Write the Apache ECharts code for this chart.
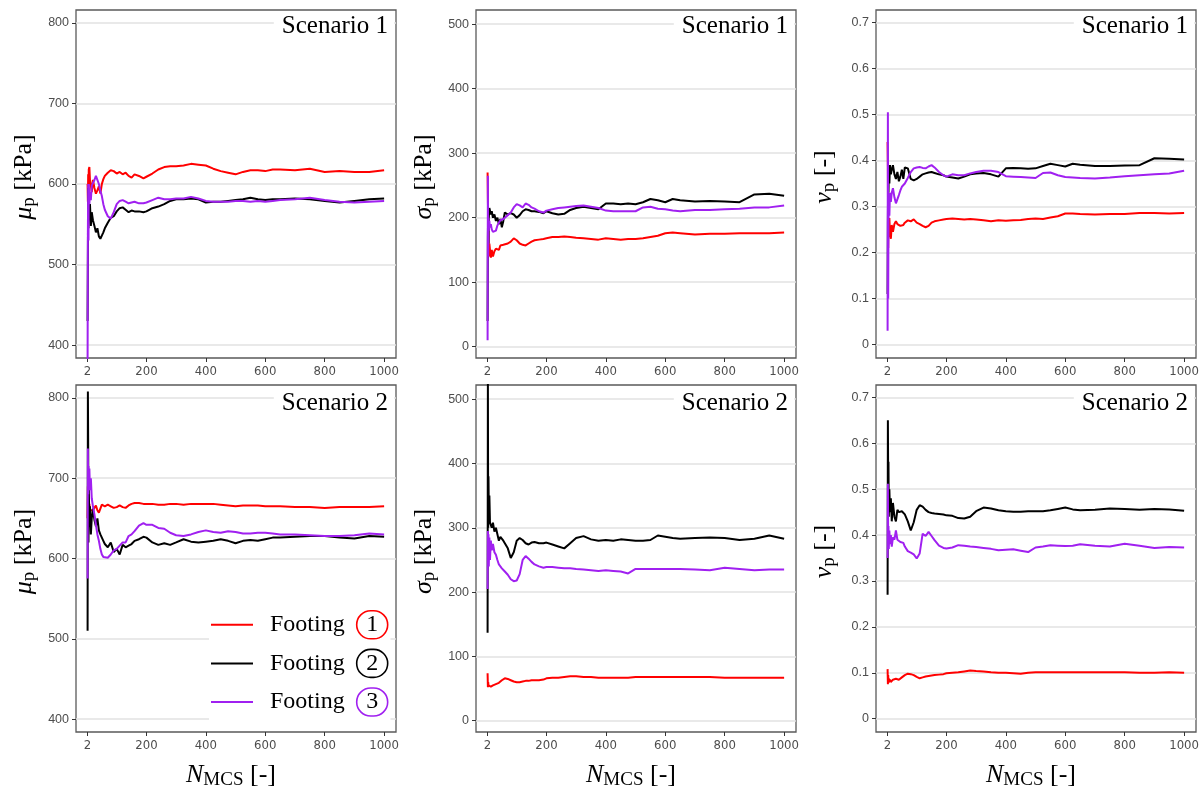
<!DOCTYPE html>
<html>
<head>
<meta charset="utf-8">
<script src="https://cdn.jsdelivr.net/npm/echarts@6/dist/echarts.min.js"></script>
<style>
  html, body { margin: 0; padding: 0; background: #fff; }
  #chart { width: 1203px; height: 791px; }
</style>
</head>
<body>
<div id="chart"></div>
<script>
// Number of Monte Carlo samples at which the running statistics are plotted
const nmcs = [2,3,4,5,6,8,10,13,16,20, 25,30,35,40,45,50,55,60,70,80,
  90,100,110,120,130,140,150,160,175,190, 200,220,240,260,280,300,325,350,375,400,
  425,450,475,500,525,550,575,600,625,650, 700,750,800,850,900,950,1000];

// Tick labels
const xTicks = [2, 200, 400, 600, 800, 1000];
const muTicks = [400, 500, 600, 700, 800];
const sigmaTicks = [0, 100, 200, 300, 400, 500];
const nuTicks = [0, 0.1, 0.2, 0.3, 0.4, 0.5, 0.6, 0.7];

const footings = ['Footing 1', 'Footing 2', 'Footing 3'];
const scenarios = ['Scenario 1', 'Scenario 2'];

// Scenario 1 — mean μp [kPa]
const muS1F1 = [600,578,612,590,618,621,605,598,590,605,
  595,588,592,597,588,600,606,610,614,617,
  616,613,615,612,614,610,608,612,610,607,
  609,613,618,621,622,622,623,625,624,623,
  619,616,614,612,615,617,617,616,618,618,
  617,619,615,616,615,615,617];
const muS1F2 = [430,510,595,545,585,555,575,548,565,555,
  548,540,545,535,532,536,540,545,552,558,
  560,566,570,571,568,565,567,566,566,565,
  566,570,572,575,579,581,581,582,581,577,
  578,578,579,580,581,583,581,580,581,581,
  582,581,579,577,579,581,582];
const muS1F3 = [380,540,600,530,600,575,590,580,598,600,
  605,610,608,600,592,585,575,568,560,557,
  565,575,579,580,578,576,577,578,576,576,
  577,580,583,581,581,582,582,584,582,579,
  578,578,578,579,579,578,579,578,579,580,
  581,583,580,578,577,578,579];

// Scenario 1 — standard deviation σp [kPa]
const sigmaS1F1 = [270,230,200,175,140,160,150,138,150,140,
  148,152,155,150,157,160,158,156,160,163,
  168,165,160,158,157,160,163,165,166,167,
  168,170,170,171,170,169,168,167,166,168,
  167,166,167,167,168,170,172,176,177,176,
  174,175,175,176,176,176,177];
const sigmaS1F2 = [40,170,215,160,200,215,212,205,210,200,
  205,195,200,190,198,185,195,208,205,207,
  205,200,204,210,213,212,210,210,209,207,
  210,207,205,206,212,215,217,215,213,222,
  222,221,222,221,224,229,227,224,229,227,
  225,226,225,224,236,237,234];
const sigmaS1F3 = [10,265,140,200,180,195,185,190,182,178,
  175,180,188,192,196,195,198,200,204,208,
  216,221,219,216,222,220,216,214,210,208,
  211,213,215,216,217,218,219,217,215,211,
  210,210,210,210,216,217,214,213,211,210,
  212,212,213,214,216,216,219];

// Scenario 1 — coefficient of variation vp [-]
const nuS1F1 = [0.44,0.385,0.21,0.27,0.24,0.275,0.24,0.23,0.26,0.245,
  0.262,0.268,0.262,0.265,0.258,0.262,0.26,0.265,0.27,0.268,
  0.272,0.265,0.262,0.258,0.255,0.258,0.265,0.268,0.27,0.272,
  0.273,0.274,0.273,0.272,0.273,0.272,0.27,0.268,0.27,0.269,
  0.27,0.271,0.273,0.274,0.273,0.276,0.279,0.285,0.285,0.284,
  0.283,0.284,0.284,0.286,0.286,0.285,0.286];
const nuS1F2 = [0.11,0.27,0.36,0.33,0.38,0.35,0.39,0.37,0.38,0.39,
  0.37,0.36,0.375,0.355,0.365,0.38,0.36,0.385,0.383,0.36,
  0.357,0.36,0.365,0.37,0.372,0.374,0.375,0.373,0.37,0.368,
  0.365,0.363,0.361,0.365,0.37,0.372,0.373,0.37,0.365,0.383,
  0.384,0.383,0.382,0.383,0.388,0.393,0.39,0.387,0.393,0.391,
  0.388,0.388,0.389,0.39,0.405,0.404,0.402];
const nuS1F3 = [0.03,0.505,0.1,0.27,0.3,0.28,0.33,0.31,0.33,0.34,
  0.32,0.307,0.31,0.325,0.335,0.343,0.345,0.35,0.362,0.375,
  0.383,0.385,0.386,0.384,0.383,0.387,0.39,0.385,0.375,0.368,
  0.365,0.37,0.368,0.368,0.372,0.375,0.378,0.378,0.375,0.366,
  0.365,0.364,0.363,0.362,0.373,0.374,0.368,0.364,0.363,0.362,
  0.361,0.363,0.366,0.368,0.37,0.372,0.378];

// Scenario 2 — mean μp [kPa]
const muS2F1 = [650,690,645,670,655,668,660,662,658,660,
  663,666,660,657,662,667,666,665,667,665,
  663,664,666,664,663,666,668,669,669,668,
  668,668,667,667,668,668,667,668,668,668,
  668,667,666,665,666,666,666,665,665,665,
  664,664,663,664,664,664,665];
const muS2F2 = [510,808,740,620,690,640,665,630,650,662,
  648,640,650,635,630,626,622,618,614,620,
  608,612,605,617,614,616,618,622,624,627,
  626,620,617,619,617,620,624,621,620,621,
  622,624,622,619,622,623,622,624,626,626,
  627,628,628,626,625,628,627];
const muS2F3 = [575,737,680,715,690,712,685,700,675,665,
  655,642,630,622,612,605,602,600,601,605,
  610,612,616,620,620,628,630,634,641,644,
  642,642,638,637,632,629,628,630,633,635,
  633,632,634,633,631,631,632,632,631,630,
  630,629,628,628,629,631,630];

// Scenario 2 — standard deviation σp [kPa]
const sigmaS2F1 = [74,52,60,55,58,52,55,53,56,55,
  56,57,58,59,61,63,65,66,65,63,
  61,60,60,61,62,62,63,63,63,64,
  66,67,67,68,69,69,68,68,67,67,
  67,67,67,68,68,68,68,68,68,68,
  68,68,67,67,67,67,67];
const sigmaS2F2 = [137,530,300,380,330,350,308,310,300,308,
  294,300,290,280,286,284,280,276,268,253,
  262,280,284,281,276,274,277,278,276,276,
  277,274,271,268,276,284,287,282,280,281,
  280,282,281,280,280,281,288,286,284,283,
  284,285,284,281,283,288,283];
const sigmaS2F3 = [205,295,250,290,240,285,250,280,265,275,
  262,258,250,243,240,237,235,232,227,220,
  217,218,228,250,256,252,247,243,240,238,
  239,239,238,237,237,236,235,234,233,234,
  233,232,229,236,236,236,236,236,236,236,
  235,234,238,236,234,235,235];

// Scenario 2 — coefficient of variation vp [-]
const nuS2F1 = [0.108,0.075,0.095,0.078,0.088,0.08,0.085,0.08,0.082,0.085,
  0.083,0.087,0.088,0.085,0.087,0.09,0.093,0.095,0.098,0.097,
  0.095,0.091,0.088,0.09,0.092,0.093,0.094,0.095,0.096,0.097,
  0.099,0.1,0.101,0.103,0.105,0.104,0.103,0.101,0.1,0.1,
  0.099,0.098,0.1,0.101,0.101,0.101,0.101,0.101,0.101,0.101,
  0.101,0.101,0.101,0.1,0.1,0.101,0.1];
const nuS2F2 = [0.27,0.65,0.52,0.56,0.44,0.5,0.45,0.48,0.43,0.47,
  0.44,0.43,0.455,0.45,0.447,0.452,0.454,0.445,0.43,0.41,
  0.428,0.455,0.465,0.462,0.455,0.45,0.448,0.447,0.446,0.445,
  0.443,0.442,0.437,0.436,0.44,0.452,0.46,0.458,0.454,0.452,
  0.451,0.451,0.452,0.452,0.452,0.454,0.457,0.46,0.456,0.454,
  0.455,0.458,0.457,0.455,0.457,0.456,0.453];
const nuS2F3 = [0.35,0.512,0.38,0.42,0.37,0.41,0.38,0.4,0.375,0.395,
  0.39,0.41,0.39,0.387,0.385,0.384,0.383,0.375,0.365,0.362,
  0.358,0.349,0.36,0.403,0.398,0.407,0.398,0.389,0.377,0.372,
  0.371,0.373,0.378,0.377,0.375,0.374,0.372,0.37,0.367,0.368,
  0.369,0.366,0.363,0.373,0.375,0.378,0.377,0.376,0.377,0.38,
  0.377,0.375,0.381,0.377,0.372,0.374,0.373];

const colors = ['#ff0000', '#000000', '#a020f0'];
const SERIF = "'Liberation Serif', 'Times New Roman', serif";
const SANS = "'Liberation Sans', Arial, sans-serif";
const SANS_NARROW = "'Liberation Sans Narrow', 'DejaVu Sans Condensed', 'Liberation Sans', sans-serif";

// Quantity shown in each column: axis range, ticks and axis title
const quantities = [
  { ticks: muTicks, min: 384, max: 816, title: '{i|μ}{s|p}{n| [kPa]}',
    data: [[muS1F1, muS1F2, muS1F3], [muS2F1, muS2F2, muS2F3]] },
  { ticks: sigmaTicks, min: -17.5, max: 522, title: '{i|σ}{s|p}{n| [kPa]}',
    data: [[sigmaS1F1, sigmaS1F2, sigmaS1F3], [sigmaS2F1, sigmaS2F2, sigmaS2F3]] },
  { ticks: nuTicks, min: -0.029, max: 0.727, title: '{i|v}{s|p}{n| [-]}',
    data: [[nuS1F1, nuS1F2, nuS1F3], [nuS2F1, nuS2F2, nuS2F3]] }
];

const nameRich = {
  i: { fontFamily: SERIF, fontStyle: 'italic', fontSize: 26, lineHeight: 30, color: '#000' },
  s: { fontFamily: SERIF, fontSize: 19, lineHeight: 13, verticalAlign: 'bottom', color: '#000' },
  n: { fontFamily: SERIF, fontSize: 26, lineHeight: 30, color: '#000' }
};

const grids = [], xAxes = [], yAxes = [], series = [], titles = [];
const rowTop = [10, 385], rowHeight = [348, 347];

for (let row = 0; row < 2; row++) {
  for (let col = 0; col < 3; col++) {
    const q = quantities[col];
    const idx = grids.length;
    const left = 76 + col * 400;
    grids.push({
      left: left, top: rowTop[row], width: 320, height: rowHeight[row],
      show: true, borderColor: '#5a5a5a', borderWidth: 1.3, backgroundColor: 'transparent'
    });
    xAxes.push({
      type: 'value', gridIndex: idx, min: -37, max: 1040, position: 'bottom',
      axisLine: { show: false, onZero: false },
      axisTick: { show: true, length: 4, lineStyle: { color: '#333', width: 1 }, customValues: xTicks },
      axisLabel: { color: '#4d4d4d', fontFamily: SANS_NARROW, fontSize: 13, margin: 7,
        customValues: xTicks, formatter: v => String(v) },
      splitLine: { show: false },
      name: row === 1 ? '{i|N}{s|MCS}{n| [-]}' : '',
      nameLocation: 'middle', nameGap: 28,
      nameTextStyle: { rich: nameRich, padding: [0, 10, 0, 0] }
    });
    yAxes.push({
      type: 'value', gridIndex: idx, min: q.min, max: q.max, position: 'left',
      axisLine: { show: false, onZero: false },
      axisTick: { show: true, length: 4, lineStyle: { color: '#333', width: 1 }, customValues: q.ticks },
      axisLabel: { color: '#4d4d4d', fontFamily: SANS, fontSize: 12.5, margin: 7,
        customValues: q.ticks, formatter: v => String(v) },
      splitLine: { show: true, lineStyle: { color: '#e2e2e2', width: 1.5 } },
      name: q.title, nameLocation: 'middle', nameRotate: 90, nameGap: 37,
      nameTextStyle: { rich: nameRich, padding: [0, 0, 0, 14] }
    });
    for (let f = 0; f < 3; f++) {
      const ys = q.data[row][f];
      series.push({
        type: 'line', name: footings[f], xAxisIndex: idx, yAxisIndex: idx,
        data: nmcs.map((n, i) => [n, ys[i]]),
        showSymbol: false, symbol: 'none', clip: true,
        lineStyle: { color: colors[f], width: 2 }, itemStyle: { color: colors[f] },
        emphasis: { disabled: true }, z: 2 + f
      });
    }
    titles.push({
      text: scenarios[row],
      right: 1203 - (left + 318),
      top: row === 0 ? 13 : 390,
      backgroundColor: '#fff', padding: [1, 6, 1, 8],
      textStyle: { fontFamily: SERIF, fontSize: 25, fontWeight: 'normal', color: '#000' }
    });
  }
}

const circle = c => ({
  fontFamily: SERIF, fontSize: 24, color: '#000', width: 31, height: 28, lineHeight: 28,
  align: 'center', borderColor: c, borderWidth: 1.6, borderRadius: 15
});

const chart = echarts.init(document.getElementById('chart'), null, { renderer: 'canvas' });
chart.setOption({
  animation: false,
  backgroundColor: '#fff',
  title: titles,
  grid: grids,
  xAxis: xAxes,
  yAxis: yAxes,
  series: series,
  legend: {
    data: footings, orient: 'vertical', left: 209, top: 606,
    icon: 'rect', itemWidth: 42, itemHeight: 2, itemGap: 9,
    backgroundColor: '#fff', padding: [4, 2, 10, 2],
    formatter: name => '{t|Footing}{g|}{c' + name.slice(-1) + '|' + name.slice(-1) + '}',
    textStyle: {
      rich: {
        t: { fontFamily: SERIF, fontSize: 24, color: '#000', padding: [0, 0, 0, 12] },
        g: { width: 12 },
        c1: circle(colors[0]), c2: circle(colors[1]), c3: circle(colors[2])
      }
    }
  }
});
</script>
</body>
</html>
